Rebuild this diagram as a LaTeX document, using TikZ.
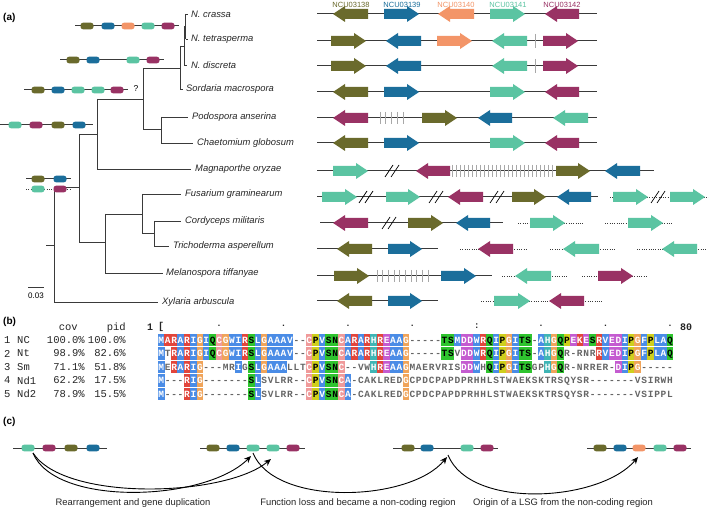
\documentclass[tikz,border=0pt]{standalone}
\usepackage{fontspec}
\setmainfont{Liberation Sans}
\newfontfamily\monof{Liberation Mono}
\usetikzlibrary{arrows.meta}
\definecolor{golive}{HTML}{6A6A2C}
\definecolor{gblue}{HTML}{1B6E9B}
\definecolor{gorange}{HTML}{F39568}
\definecolor{gteal}{HTML}{5BC4A2}
\definecolor{gmag}{HTML}{993264}
\definecolor{linec}{HTML}{3A3A3A}
\definecolor{tickc}{HTML}{A8A8A8}
\definecolor{alnb}{HTML}{4A8CE6}
\definecolor{alnr}{HTML}{E2453B}
\definecolor{alng}{HTML}{2EC42E}
\definecolor{alnm}{HTML}{C45BD0}
\definecolor{alno}{HTML}{F0A45A}
\definecolor{alnp}{HTML}{F09A9A}
\definecolor{alny}{HTML}{CFCF1C}
\definecolor{alnc}{HTML}{3FB5B5}
\colorlet{alntb}{white}
\colorlet{alntr}{white}
\colorlet{alntg}{black}
\colorlet{alntm}{white}
\colorlet{alnto}{white}
\colorlet{alntp}{white}
\colorlet{alnty}{black}
\colorlet{alntc}{white}
\definecolor{alngray}{HTML}{666666}
% gene arrows
\newcommand\gR[4]{\fill[#4] (#1,#3-5) -- (#2-12,#3-5) -- (#2-12,#3-8) -- (#2,#3) -- (#2-12,#3+8) -- (#2-12,#3+5) -- (#1,#3+5) -- cycle;}
\newcommand\gL[4]{\fill[#4] (#2,#3-5) -- (#1+12,#3-5) -- (#1+12,#3-8) -- (#1,#3) -- (#1+12,#3+8) -- (#1+12,#3+5) -- (#2,#3+5) -- cycle;}
\newcommand\gb[3]{\fill[#3, rounded corners=2.6pt] (#1-6.5,#2-3.3) rectangle (#1+6.5,#2+3.3);}
\newcommand\brk[2]{\draw[black, line width=0.7pt] (#1-8,#2+6) -- (#1,#2-6) (#1-2,#2+6) -- (#1+6,#2-6);}
\newcommand\tks[4]{\foreach \i in {0,...,#3} \draw[tk] ({#1+\i*#4},#2-6) -- ({#1+\i*#4},#2+6);}
% alignment
\newcount\alncol
\def\alnstop{}
\newcommand\alnrow[2]{\global\alncol=0 \def\alny{#1}\alnloop#2\alnstop\alnstop}
\def\alnloop#1#2{\ifx#1\alnstop\else\global\advance\alncol by 1\relax\alncell#1#2\expandafter\alnloop\fi}
\def\alncell#1#2{%
  \ifx#2n%
    \node[alnt] at (\the\alncol*6.44+154.78,\alny) {#1};%
  \else
    \node[alnt, fill=aln#2, text=alnt#2] at (\the\alncol*6.44+154.78,\alny) {#1};%
  \fi}
\begin{document}
\begin{tikzpicture}[x=1pt,y=-1pt,
  tree/.style={draw=linec, line width=0.9pt},
  rowline/.style={draw=linec, line width=1pt},
  dotl/.style={draw=linec, line width=0.9pt, dash pattern=on 1pt off 1.3pt},
  tk/.style={draw=tickc, line width=0.8pt},
  sp/.style={anchor=west, font=\fontsize{9.4}{11}\selectfont\itshape, inner sep=0pt, text=black!85},
  hdr/.style={font=\fontsize{7.5}{9}\selectfont, inner sep=0pt},
  plab/.style={font=\fontsize{10}{12}\selectfont\bfseries, anchor=west, inner sep=0pt},
  alnt/.style={minimum width=6.6pt, minimum height=12.6pt, inner sep=0pt, text=alngray,
    font=\monof\bfseries\fontsize{9.5}{10}\selectfont, text height=6.6pt, text depth=0pt},
  tbl/.style={font=\monof\fontsize{10.5}{12}\selectfont, inner sep=0pt, text=black!85},
  carr/.style={draw=black, line width=0.9pt, -{Stealth[length=7pt,width=6pt]}},
  clab/.style={font=\fontsize{9.4}{11}\selectfont, inner sep=0pt, text=black!85}
]
\useasboundingbox (0,0) rectangle (709,510);
\fill[white] (0,0) rectangle (709,510);

%% ---------------- panel (a) ----------------
\node[plab] (la) at (3,18) {(a)};

% tree
\draw[tree] (185.5,14) -- (188,14) (185.5,39) -- (188,39) (185.5,14) -- (185.5,39);
\draw[tree] (184.5,26.5) -- (185.5,26.5) (184.5,26.5) -- (184.5,65) -- (187,65);
\draw[tree] (180,46) -- (184.5,46) (180,46) -- (180,89) -- (183,89);
\draw[tree] (143,68) -- (180,68) (143,68) -- (143,129);
\draw[tree] (143,129) -- (161,129) (161,117) -- (161,143) (161,117) -- (188,117) (161,143) -- (193,143);
\draw[tree] (97,99) -- (143,99) (97,99) -- (97,169) -- (191,169);
\draw[tree] (79,134) -- (97,134) (79,134) -- (79,242);
\draw[tree] (79,242) -- (105,242) (105,214) -- (105,273) -- (163,273);
\draw[tree] (105,214) -- (142,214) (142,194) -- (142,233) (142,194) -- (181,194);
\draw[tree] (142,233) -- (154,233) (154,221) -- (154,246) (154,221) -- (181,221) (154,246) -- (169,246);
\draw[tree] (54,187) -- (79,187) (54,187) -- (54,302) -- (158,302) (46,245) -- (54,245);

\node[sp] (t1) at (191,14) {N. crassa};
\node[sp] (t2) at (191,39) {N. tetrasperma};
\node[sp] (t3) at (191,65) {N. discreta};
\node[sp] (t4) at (186,89.5) {Sordaria macrospora};
\node[sp] (t5) at (192,117) {Podospora anserina};
\node[sp] (t6) at (197,143) {Chaetomium globosum};
\node[sp] (t7) at (195,169) {Magnaporthe oryzae};
\node[sp] (t8) at (185,194) {Fusarium graminearum};
\node[sp] (t9) at (185,221) {Cordyceps militaris};
\node[sp] (t10) at (173,246) {Trichoderma asperellum};
\node[sp] (t11) at (166,273) {Melanospora tiffanyae};
\node[sp] (t12) at (162,302) {Xylaria arbuscula};

% scale bar
\draw[tree] (28,287) -- (44,287);
\node[hdr, font=\fontsize{8}{9}\selectfont] (sc) at (36,296) {0.03};

% ancestral cartoons
\draw[rowline] (75,26) -- (179,26);
\gb{87}{26}{golive}\gb{108}{26}{gblue}\gb{128}{26}{gorange}\gb{148}{26}{gteal}\gb{168}{26}{gmag}
\draw[rowline] (60,60) -- (164,60);
\gb{73}{60}{golive}\gb{93}{60}{gblue}\gb{133}{60}{gteal}\gb{153}{60}{gmag}
\draw[rowline] (24,90) -- (128,90);
\gb{38}{90}{golive}\gb{58}{90}{gblue}\gb{78}{90}{gteal}\gb{98}{90}{gteal}\gb{117}{90}{gmag}
\node[hdr, font=\fontsize{8.5}{10}\selectfont] (q) at (136,89) {?};
\draw[rowline] (0,125) -- (93,125);
\gb{15}{125}{gteal}\gb{36}{125}{gmag}\gb{58}{125}{golive}\gb{79}{125}{gblue}
\draw[rowline] (26,179) -- (71,179);
\gb{38}{179}{golive}\gb{60}{179}{gblue}
\draw[dotl] (26,189) -- (71,189);
\gb{38}{189}{gteal}\gb{60}{189}{gmag}

% gene header
\node[hdr, text=golive] (h1) at (351,5) {NCU03138};
\node[hdr, text=gblue] (h2) at (402,5) {NCU03139};
\node[hdr, text=gorange] (h3) at (456,5) {NCU03140};
\node[hdr, text=gteal] (h4) at (508,5) {NCU03141};
\node[hdr, text=gmag] (h5) at (562,5) {NCU03142};

% row 1
\draw[rowline] (317,14) -- (597,14);
\gL{333}{368}{14}{golive}\gR{384}{419}{14}{gblue}\gL{438}{474}{14}{gorange}\gR{490}{525}{14}{gteal}\gL{545}{579}{14}{gmag}
% row 2
\draw[rowline] (317,41) -- (597,41);
\draw[tk] (535,34) -- (535,48);
\gR{331}{366}{41}{golive}\gL{386}{421}{41}{gblue}\gR{437}{472}{41}{gorange}\gL{492}{527}{41}{gteal}\gR{543}{578}{41}{gmag}
% row 3
\draw[rowline] (317,66) -- (597,66);
\draw[tk] (535,59) -- (535,73);
\gR{331}{366}{66}{golive}\gL{386}{421}{66}{gblue}\gL{492}{527}{66}{gteal}\gR{543}{578}{66}{gmag}
% row 4
\draw[rowline] (317,92) -- (597,92);
\gL{333}{368}{92}{golive}\gR{384}{419}{92}{gblue}\gR{490}{525}{92}{gteal}\gL{545}{579}{92}{gmag}
% row 5
\draw[rowline] (317,118) -- (597,118);
\tks{380}{118}{4}{5.75}
\gL{333}{368}{118}{gmag}\gR{422}{457}{118}{golive}\gL{478}{512}{118}{gblue}\gL{553}{588}{118}{gteal}
% row 6
\draw[rowline] (317,143) -- (597,143);
\gL{333}{368}{143}{golive}\gR{384}{419}{143}{gblue}\gR{490}{525}{143}{gteal}\gL{545}{579}{143}{gmag}
% row 7
\draw[rowline] (317,171) -- (654,171);
\tks{452}{171}{25}{4.0}
\brk{393}{171}
\gR{333}{368}{171}{gteal}\gL{416}{450}{171}{gmag}\gR{556}{590}{171}{golive}\gL{605}{640}{171}{gblue}
% row 8
\draw[rowline] (317,197) -- (598,197);
\brk{367}{197}\brk{437}{197}\brk{498}{197}
\gR{322}{357}{197}{gteal}\gR{386}{420}{197}{gteal}\gL{448}{483}{197}{gmag}\gR{512}{546}{197}{golive}\gL{557}{591}{197}{gblue}
\draw[dotl] (610,197) -- (614,197) (647,197) -- (671,197) (704,197) -- (709,197);
\brk{659}{197}
\gR{613}{648}{197}{gteal}\gR{670}{705}{197}{gteal}
% row 9
\draw[rowline] (320,223) -- (503,223);
\brk{390}{223}
\gL{333}{368}{223}{gmag}\gR{408}{443}{223}{golive}\gL{456}{490}{223}{gblue}
\draw[dotl] (518,223) -- (531,223) (564,223) -- (583,223) (605,223) -- (629,223) (662,223) -- (672,223);
\gR{530}{565}{223}{gteal}\gR{628}{663}{223}{gteal}
% row 10
\draw[rowline] (317,249) -- (438,249);
\gL{337}{372}{249}{golive}\gR{388}{422}{249}{gblue}
\draw[dotl] (460,249) -- (479,249) (512,249) -- (526,249) (550,249) -- (564,249) (598,249) -- (616,249) (637,249) -- (663,249) (696,249) -- (706,249);
\gL{478}{513}{249}{gmag}\gL{563}{599}{249}{gteal}\gL{662}{697}{249}{gteal}
% row 11
\draw[rowline] (317,276) -- (492,276);
\tks{377}{276}{9}{5.67}
\gR{334}{369}{276}{golive}\gR{441}{476}{276}{gblue}
\draw[dotl] (502,276) -- (516,276) (550,276) -- (568,276) (582,276) -- (599,276) (632,276) -- (648,276);
\gL{515}{551}{276}{gteal}\gR{598}{633}{276}{gmag}
% row 12
\draw[rowline] (317,301) -- (438,301);
\gL{337}{372}{301}{golive}\gR{388}{422}{301}{gblue}
\draw[dotl] (481,301) -- (495,301) (529,301) -- (550,301) (583,301) -- (602,301);
\gR{494}{530}{301}{gteal}\gL{549}{584}{301}{gmag}

%% ---------------- panel (b) ----------------
\node[plab] (lb) at (3,322) {(b)};
\node[tbl, anchor=east] (hc) at (78,328) {cov};
\node[tbl, anchor=east] (hp) at (126,328) {pid};
\foreach \r/\n/\c/\p [count=\k] in {340/NC/100.0\%/100.0\%, 353.5/Nt/98.9\%/82.6\%, 367/Sm/71.1\%/51.8\%, 380.5/Nd1/62.2\%/17.5\%, 394/Nd2/78.9\%/15.5\%}{
  \node[tbl, anchor=west] (n\k) at (4,\r) {\k};
  \node[tbl, anchor=west] (m\k) at (17,\r) {\n};
  \node[tbl, anchor=east] (c\k) at (85,\r) {\c};
  \node[tbl, anchor=east] (p\k) at (126,\r) {\p};
}
\node[tbl, font=\monof\bfseries\fontsize{10}{12}\selectfont] (a1) at (150,327) {1};
\node[tbl, font=\monof\bfseries\fontsize{10}{12}\selectfont] (a0) at (161.2,327) {[};
\foreach \cc in {10,20,30,40,60,70,80}{
  \node[tbl, font=\monof\bfseries\fontsize{9}{10}\selectfont] (d\cc) at ({154.78+\cc*6.44},326) {.};
}
\node[tbl, font=\monof\bfseries\fontsize{9}{10}\selectfont] (d50) at ({154.78+50*6.44},326) {:};
\node[tbl, font=\monof\bfseries\fontsize{10}{12}\selectfont, anchor=west] (a80) at (680,327) {80};

\alnrow{340}{MbArRrAbRrIbGoIbQgCp GoWbIbRrSgLbGoAbAbAb Vb-n-nCpPyVbSgNgCpAb RrAbRrHcRrEmAbAbGo-n
 -n-n-n-nTgSgMbDmDmWb RrQgIbPyGoIbTgSg-nAb HcGoQgPyEmKrEmSgRrVb EmDmIbPyGoFbPyLbAbQg}
\alnrow{353.5}{MbTnRrAbRrIbGoIbQgCp GoWbIbRrSgLbGoAbAbAb Vb-n-nCpPyVbSgNgCpAb RrAbRrHcRrEmAbAbGo-n
 -n-n-n-nTgSgVnDmDmWb RrQgIbPyGoIbTgSg-nAb HcGoQgRn-nRnNnRnRrVb EmDmIbPyGoFbPyLbAbQg}
\alnrow{367}{MbEnRrAbRrIbGo-n-n-n MnRnIbGnSgLbGoAbAbAb LnLnTnCpPyVbSgNgCp-n -nVnWnHcRrEmAbAbGoMn
 AnEnRnVnRnInSnDmDmWb HnQgIbPyGoIbTgSgGnPn HcGoQgRn-nNnRnRnEnRn -nDmIbPyGo-n-n-n-n-n}
\alnrow{380.5}{Mb-n-n-nRrIbGo-n-n-n -n-n-n-nSgLbSnVnLnRn Rn-n-nCpPyVbSgNgCpAb -nCnAnKnLnRnEnDnGoCn
 PnDnCnPnAnPnDnPnRnHn HnLnSnTnWnAnEnKnSnKn TnRnSnQnYnSnRn-n-n-n -n-n-n-nVnSnInRnWnHn}
\alnrow{394}{Mb-n-n-nRrIbGo-n-n-n -n-n-n-nSgLbSnVnLnRn Rn-n-nCpPyVbSgNgCpAb -nCnAnKnLnRnEnDnGoCn
 PnDnCnPnAnPnDnPnRnHn HnLnSnTnWnAnEnKnSnKn TnRnSnQnYnSnRn-n-n-n -n-n-n-nVnSnInPnPnLn}

%% ---------------- panel (c) ----------------
\node[plab] (lc) at (3,422) {(c)};
\draw[rowline] (13,448) -- (107,448);
\gb{28}{448}{gteal}\gb{49}{448}{gmag}\gb{71}{448}{golive}\gb{93}{448}{gblue}
\draw[rowline] (200,448) -- (305,448);
\gb{213}{448}{golive}\gb{233}{448}{gblue}\gb{253}{448}{gteal}\gb{273}{448}{gteal}\gb{293}{448}{gmag}
\draw[rowline] (393,448) -- (498,448);
\gb{408}{448}{golive}\gb{427}{448}{gblue}\gb{467}{448}{gteal}\gb{487}{448}{gmag}
\draw[rowline] (587,448) -- (691,448);
\gb{600}{448}{golive}\gb{620}{448}{gblue}\gb{639}{448}{gorange}\gb{660}{448}{gteal}\gb{680}{448}{gmag}

\coordinate (s1) at (33,453);
\coordinate (e1) at (251,456);
\coordinate (e2) at (271,459);
\coordinate (s2) at (253,453);
\coordinate (e3) at (447,457);
\coordinate (s3) at (448,455);
\coordinate (e4) at (638,457);
\draw[carr] (s1) .. controls (55,507) and (205,502) .. (e1);
\draw[carr] (s1) .. controls (65,502) and (225,497) .. (e2);
\draw[carr] (s2) .. controls (275,507) and (410,502) .. (e3);
\draw[carr] (s3) .. controls (470,510) and (600,502) .. (e4);

\node[clab] (x1) at (133,503) {Rearrangement and gene duplication};
\node[clab] (x2) at (358,503) {Function loss and became a non-coding region};
\node[clab] (x3) at (563,503) {Origin of a LSG from the non-coding region};
\end{tikzpicture}
\end{document}
